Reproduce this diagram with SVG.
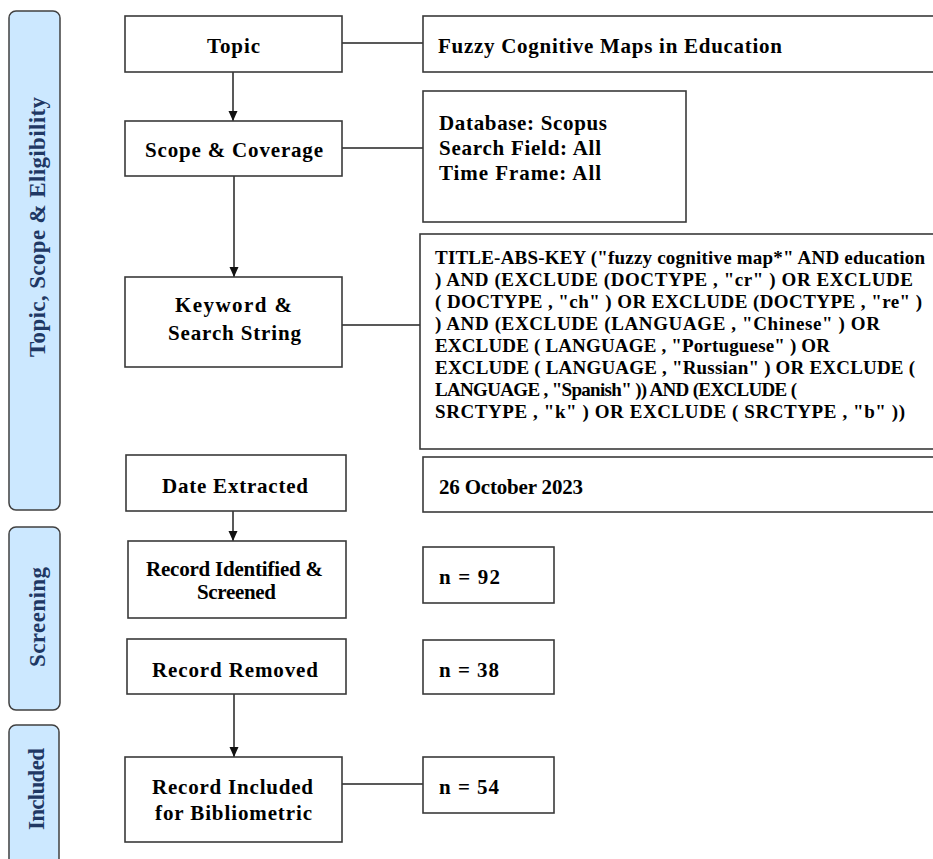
<svg xmlns="http://www.w3.org/2000/svg" width="933" height="859" viewBox="0 0 933 859">
  <defs>
    <marker id="arrow" markerUnits="userSpaceOnUse" markerWidth="10" markerHeight="10" viewBox="0 0 10 10" refX="10" refY="5" orient="auto">
      <path d="M0,0.5 L10,5 L0,9.5 Z" fill="#111"/>
    </marker>
    <style>
      .side { fill: #CCE8FF; stroke: #404040; stroke-width: 1.5; }
      .sidetxt { font-family: 'Liberation Serif', 'DejaVu Serif', serif; font-weight: 700; font-size: 23px; fill: #1F3864; text-anchor: middle; }
      .box { fill: #ffffff; stroke: #3a3a3a; stroke-width: 1.6; }
      .lbl { font-family: 'Liberation Serif', 'DejaVu Serif', serif; font-weight: 700; font-size: 21px; fill: #000; }
      .mid { text-anchor: middle; }
      .kw { font-family: 'Liberation Serif', 'DejaVu Serif', serif; font-weight: 700; font-size: 19px; fill: #000; }
      .conn { stroke: #222; stroke-width: 1.5; fill: none; }
    </style>
  </defs>
  <rect x="0" y="0" width="933" height="859" fill="#ffffff"/>

  <!-- Side bands -->
  <g id="band-topic">
    <rect class="side" x="9" y="11" width="51" height="499" rx="7"/>
    <text class="sidetxt" font-family="Liberation Serif, DejaVu Serif, serif" transform="translate(45,227) rotate(-90)" textLength="260" lengthAdjust="spacing">Topic, Scope &amp; Eligibility</text>
  </g>
  <g id="band-screening">
    <rect class="side" x="9" y="527" width="51" height="183" rx="7"/>
    <text class="sidetxt" transform="translate(45,617) rotate(-90)" textLength="100" lengthAdjust="spacing">Screening</text>
  </g>
  <g id="band-included">
    <rect class="side" x="9" y="725" width="50" height="150" rx="7"/>
    <text class="sidetxt" transform="translate(44,789) rotate(-90)" textLength="82" lengthAdjust="spacing">Included</text>
  </g>

  <!-- Connectors -->
  <g id="connectors">
    <line class="conn" x1="233" y1="72" x2="233" y2="121" marker-end="url(#arrow)"/>
    <line class="conn" x1="234" y1="176" x2="234" y2="277" marker-end="url(#arrow)"/>
    <line class="conn" x1="233" y1="511" x2="233" y2="541" marker-end="url(#arrow)"/>
    <line class="conn" x1="234" y1="694" x2="234" y2="757" marker-end="url(#arrow)"/>
    <line class="conn" x1="342" y1="43" x2="423" y2="43"/>
    <line class="conn" x1="342" y1="148" x2="423" y2="148"/>
    <line class="conn" x1="342" y1="325" x2="420" y2="325"/>
    <line class="conn" x1="342" y1="784" x2="423" y2="784"/>
  </g>

  <!-- Left column nodes -->
  <g id="node-topic">
    <rect class="box" x="125" y="16" width="217" height="56"/>
    <text class="lbl mid" x="233.5" y="53" textLength="53" lengthAdjust="spacing">Topic</text>
  </g>
  <g id="node-scope">
    <rect class="box" x="125" y="121" width="217" height="55"/>
    <text class="lbl mid" x="234" y="157" textLength="178" lengthAdjust="spacing">Scope &amp; Coverage</text>
  </g>
  <g id="node-keyword">
    <rect class="box" x="125" y="277" width="217" height="90"/>
    <text class="lbl mid" x="233.5" y="312" textLength="117" lengthAdjust="spacing">Keyword &amp;</text>
    <text class="lbl mid" x="234.5" y="340" textLength="133" lengthAdjust="spacing">Search String</text>
  </g>
  <g id="node-date">
    <rect class="box" x="126" y="455" width="220" height="56"/>
    <text class="lbl mid" x="235" y="493" textLength="146" lengthAdjust="spacing">Date Extracted</text>
  </g>
  <g id="node-identified">
    <rect class="box" x="128" y="541" width="218" height="77"/>
    <text class="lbl mid" x="234.5" y="576" textLength="177" lengthAdjust="spacing">Record Identified &amp;</text>
    <text class="lbl mid" x="236.5" y="599" textLength="79" lengthAdjust="spacing">Screened</text>
  </g>
  <g id="node-removed">
    <rect class="box" x="127" y="639" width="219" height="55"/>
    <text class="lbl mid" x="235" y="677" textLength="166" lengthAdjust="spacing">Record Removed</text>
  </g>
  <g id="node-included">
    <rect class="box" x="125" y="757" width="217" height="85"/>
    <text class="lbl mid" x="232.5" y="794" textLength="161" lengthAdjust="spacing">Record Included</text>
    <text class="lbl mid" x="233.5" y="820" textLength="157" lengthAdjust="spacing">for Bibliometric</text>
  </g>

  <!-- Right column nodes -->
  <g id="node-fuzzy">
    <rect class="box" x="423" y="16" width="520" height="56"/>
    <text class="lbl" x="438" y="53" textLength="344" lengthAdjust="spacing">Fuzzy Cognitive Maps in Education</text>
  </g>
  <g id="node-database">
    <rect class="box" x="423" y="91" width="263" height="131"/>
    <text class="lbl" x="439" y="130" textLength="168" lengthAdjust="spacing">Database: Scopus</text>
    <text class="lbl" x="439" y="155" textLength="162" lengthAdjust="spacing">Search Field: All</text>
    <text class="lbl" x="439" y="180" textLength="162" lengthAdjust="spacing">Time Frame: All</text>
  </g>
  <g id="node-string">
    <rect class="box" x="420" y="234" width="523" height="215"/>
    <text class="kw" x="435" y="264" textLength="490" lengthAdjust="spacing">TITLE-ABS-KEY ("fuzzy cognitive map*"  AND education</text>
    <text class="kw" x="435" y="286" textLength="478" lengthAdjust="spacing">) AND (EXCLUDE (DOCTYPE , "cr" ) OR EXCLUDE</text>
    <text class="kw" x="435" y="308" textLength="487" lengthAdjust="spacing">( DOCTYPE , "ch" ) OR EXCLUDE (DOCTYPE , "re" )</text>
    <text class="kw" x="435" y="330" textLength="445" lengthAdjust="spacing">) AND (EXCLUDE (LANGUAGE , "Chinese" ) OR</text>
    <text class="kw" x="435" y="352" textLength="395" lengthAdjust="spacing">EXCLUDE ( LANGUAGE , "Portuguese" ) OR</text>
    <text class="kw" x="435" y="374" textLength="480" lengthAdjust="spacing">EXCLUDE ( LANGUAGE , "Russian" ) OR EXCLUDE (</text>
    <text class="kw" x="435" y="396" textLength="362" lengthAdjust="spacing">LANGUAGE , "Spanish" )) AND (EXCLUDE (</text>
    <text class="kw" x="435" y="418" textLength="470" lengthAdjust="spacing">SRCTYPE , "k" ) OR EXCLUDE ( SRCTYPE , "b" ))</text>
  </g>
  <g id="node-october">
    <rect class="box" x="423" y="457" width="520" height="55"/>
    <text class="lbl" x="439" y="494" textLength="144" lengthAdjust="spacing">26 October 2023</text>
  </g>
  <g id="node-n92">
    <rect class="box" x="423" y="547" width="131" height="56"/>
    <text class="lbl" x="439" y="584" textLength="61" lengthAdjust="spacing">n = 92</text>
  </g>
  <g id="node-n38">
    <rect class="box" x="423" y="640" width="131" height="54"/>
    <text class="lbl" x="439" y="677" textLength="60" lengthAdjust="spacing">n = 38</text>
  </g>
  <g id="node-n54">
    <rect class="box" x="423" y="757" width="131" height="56"/>
    <text class="lbl" x="439" y="794" textLength="60" lengthAdjust="spacing">n = 54</text>
  </g>
</svg>
